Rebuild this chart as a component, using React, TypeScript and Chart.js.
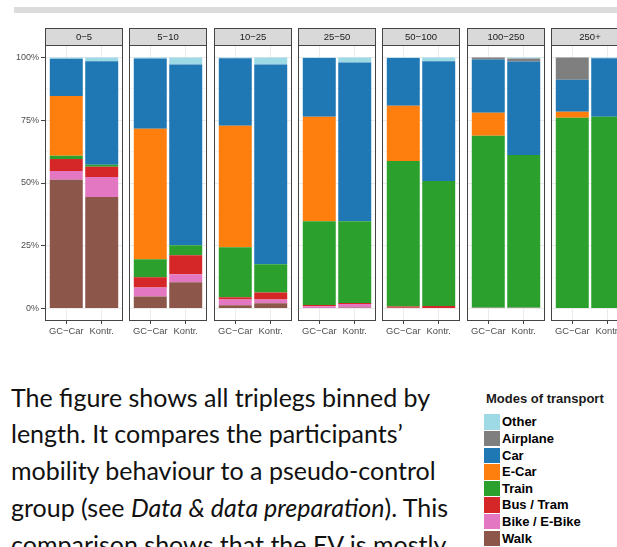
import React, { useEffect, useRef } from 'react';
import { Chart, registerables } from 'chart.js';

Chart.register(...registerables);

// ---------- data ----------
const bins = ['0−5', '5−10', '10−25', '25−50', '50−100', '100−250', '250+'];
const groups = ['GC−Car', 'Kontr.'];

// shares per length bin: [GC-Car, Kontr.]
const walk = [[0.513, 0.444], [0.048, 0.104], [0.013, 0.021], [0.002, 0.004], [0.003, 0.002], [0, 0], [0, 0]];
const bike = [[0.035, 0.08], [0.036, 0.032], [0.023, 0.015], [0.007, 0.014], [0, 0], [0.003, 0.003], [0, 0]];
const busTram = [[0.048, 0.041], [0.04, 0.076], [0.009, 0.028], [0.005, 0.004], [0.005, 0.008], [0, 0], [0, 0]];
const train = [[0.013, 0.008], [0.072, 0.04], [0.199, 0.112], [0.334, 0.326], [0.58, 0.498], [0.685, 0.609], [0.76, 0.764]];
const eCar = [[0.238, 0], [0.52, 0], [0.484, 0], [0.416, 0], [0.22, 0], [0.092, 0], [0.024, 0]];
const car = [[0.148, 0.412], [0.28, 0.72], [0.269, 0.796], [0.234, 0.632], [0.19, 0.477], [0.212, 0.372], [0.128, 0.233]];
const airplane = [[0, 0], [0, 0], [0, 0], [0, 0], [0, 0], [0.008, 0.012], [0.088, 0]];
const other = [[0.005, 0.015], [0.004, 0.028], [0.003, 0.028], [0.002, 0.02], [0.002, 0.015], [0, 0.004], [0, 0.003]];

const yMajorTicks = [0, 0.25, 0.5, 0.75, 1];
const yTickLabels = ['0%', '25%', '50%', '75%', '100%'];
const yMinorTicks = [0.125, 0.375, 0.625, 0.875];

const legendTitle = 'Modes of transport';

// stacking order bottom -> top
const series = [
  { name: 'Walk', values: walk, color: '#8c564b' },
  { name: 'Bike / E-Bike', values: bike, color: '#e377c2' },
  { name: 'Bus / Tram', values: busTram, color: '#d62728' },
  { name: 'Train', values: train, color: '#2ca02c' },
  { name: 'E-Car', values: eCar, color: '#ff7f0e' },
  { name: 'Car', values: car, color: '#1f77b4' },
  { name: 'Airplane', values: airplane, color: '#7f7f7f' },
  { name: 'Other', values: other, color: '#9edae5' },
];

// ---------- layout ----------
const FONT = '"Liberation Sans", Arial, Helvetica, sans-serif';
const PANEL_W = 78;
const PANEL_H = 276;
const STRIP_H = 18;
const AXIS_H = 26;
const PANEL_STEP = 84.33;
const FIRST_LEFT = 45;
const TOP = 27;
const EDGE = '#444444';

const isMajor = (v: number) => yMajorTicks.some((m) => Math.abs(m - v) < 1e-6);

const facetPlugin = {
  id: 'facet',
  afterDraw(chart: any, _args: any, opts: any) {
    const { ctx, chartArea: a } = chart;
    ctx.save();
    // strip
    ctx.fillStyle = '#d9d9d9';
    ctx.fillRect(a.left, 1, a.width, a.top - 1);
    ctx.strokeStyle = EDGE;
    ctx.lineWidth = 1;
    ctx.strokeRect(a.left + 0.5, 1.5, a.width - 1, a.top - 1);
    ctx.fillStyle = '#1a1a1a';
    ctx.font = `9.5px ${FONT}`;
    ctx.textAlign = 'center';
    ctx.textBaseline = 'middle';
    ctx.fillText(opts.title, (a.left + a.right) / 2, (a.top + 2) / 2);
    // panel border
    ctx.strokeRect(a.left + 0.5, a.top + 0.5, a.width - 1, a.height - 1);
    ctx.restore();
  },
};

function Panel({ k }: { k: number }) {
  const ref = useRef<HTMLCanvasElement>(null);
  const leftW = k === 0 ? FIRST_LEFT : 3;
  const panelLeft = Math.round(FIRST_LEFT + PANEL_STEP * k);
  const canvasLeft = panelLeft - leftW;
  const width = leftW + PANEL_W + 3;
  const height = STRIP_H + PANEL_H + AXIS_H;

  useEffect(() => {
    const first = k === 0;
    const chart = new Chart(ref.current as HTMLCanvasElement, {
      type: 'bar',
      data: {
        datasets: series.map((s) => ({
          label: s.name,
          data: groups.map((_, i) => ({ x: i + 1, y: s.values[k][i] })),
          backgroundColor: s.color,
          borderWidth: 0,
          barPercentage: 0.93,
          categoryPercentage: 1,
        })),
      },
      options: {
        responsive: false,
        animation: false,
        events: [],
        layout: { padding: { top: STRIP_H, right: 3, left: 0, bottom: 0 } },
        plugins: {
          legend: { display: false },
          tooltip: { enabled: false },
          facet: { title: bins[k] },
        } as any,
        scales: {
          x: {
            type: 'linear',
            min: 0.4,
            max: 2.6,
            stacked: true,
            offset: false,
            afterBuildTicks: (s: any) => {
              s.ticks = groups.map((_, i) => ({ value: i + 1 }));
            },
            afterFit: (s: any) => {
              s.height = AXIS_H;
            },
            grid: { offset: false, color: '#ebebeb', lineWidth: 1, tickColor: EDGE, tickLength: 3 },
            border: { display: false },
            ticks: {
              callback: (v: any) => groups[Math.round(Number(v)) - 1] ?? '',
              color: '#4d4d4d',
              font: { family: FONT, size: 9.4 },
              padding: 2,
              maxRotation: 0,
              autoSkip: false,
            },
          },
          y: {
            type: 'linear',
            min: -0.05,
            max: 1.05,
            stacked: true,
            afterBuildTicks: (s: any) => {
              s.ticks = [...yMajorTicks, ...yMinorTicks].sort((a, b) => a - b).map((v) => ({ value: v }));
            },
            afterFit: (s: any) => {
              s.width = leftW;
            },
            grid: {
              color: (c: any) => (c.tick && isMajor(c.tick.value) ? '#ebebeb' : '#f4f4f4'),
              tickColor: (c: any) => (c.tick && isMajor(c.tick.value) ? EDGE : 'rgba(0,0,0,0)'),
              tickLength: 4,
              drawTicks: first,
            },
            border: { display: false },
            ticks: {
              display: first,
              autoSkip: false,
              callback: (v: any) => {
                const i = yMajorTicks.findIndex((m) => Math.abs(m - Number(v)) < 1e-6);
                return i >= 0 ? yTickLabels[i] : '';
              },
              color: '#4d4d4d',
              font: { family: FONT, size: 9 },
              padding: 2,
            },
          },
        },
      } as any,
      plugins: [facetPlugin],
    });
    return () => chart.destroy();
  }, [k]);

  return (
    <canvas
      ref={ref}
      width={width}
      height={height}
      style={{ position: 'absolute', left: canvasLeft, top: TOP, width, height, display: 'block' }}
    />
  );
}

const legendOrder = [...series].reverse();

export default function App() {
  return (
    <div
      style={{
        position: 'absolute',
        left: 0,
        top: 0,
        width: 617,
        height: 547,
        overflow: 'hidden',
        background: '#ffffff',
      }}
    >
      <div style={{ position: 'absolute', left: 14, top: 7, width: 603, height: 6, background: '#dcdcdc' }} />
      {bins.map((_, k) => (
        <Panel key={k} k={k} />
      ))}
      <div
        style={{
          position: 'absolute',
          left: 11,
          top: 378.7,
          fontFamily: 'Lato, "Open Sans", sans-serif',
          fontSize: 25,
          lineHeight: '36.7px',
          color: '#111111',
          whiteSpace: 'nowrap',
        }}
      >
        <div>The figure shows all triplegs binned by</div>
        <div>length. It compares the participants’</div>
        <div>mobility behaviour to a pseudo-control</div>
        <div>
          group (see <i>Data &amp; data preparation</i>). This
        </div>
        <div>comparison shows that the EV is mostly</div>
      </div>
      <div
        style={{
          position: 'absolute',
          left: 486,
          top: 391,
          fontFamily: FONT,
          fontWeight: 'bold',
          fontSize: 13,
          lineHeight: '16px',
          color: '#1a1a1a',
          whiteSpace: 'nowrap',
        }}
      >
        {legendTitle}
      </div>
      {legendOrder.map((s, i) => (
        <div
          key={s.name}
          style={{ position: 'absolute', left: 484, top: 414.3 + i * 16.6, height: 16, whiteSpace: 'nowrap' }}
        >
          <div style={{ position: 'absolute', left: 0, top: 0, width: 16, height: 15.6, background: s.color }} />
          <div
            style={{
              position: 'absolute',
              left: 18,
              top: 0,
              fontFamily: FONT,
              fontWeight: 'bold',
              fontSize: 13,
              lineHeight: '16px',
              color: '#000000',
            }}
          >
            {s.name}
          </div>
        </div>
      ))}
    </div>
  );
}
